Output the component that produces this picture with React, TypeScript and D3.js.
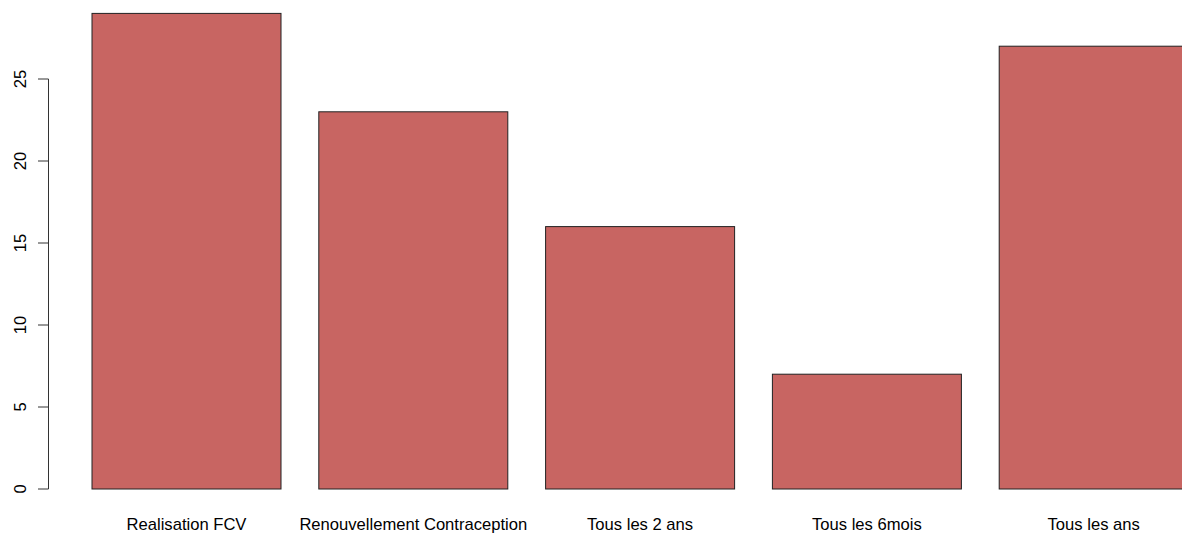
import React from "react";
import * as d3 from "d3";

const categories = ["Realisation FCV", "Renouvellement Contraception", "Tous les 2 ans", "Tous les 6mois", "Tous les ans"];
const values = [29, 23, 16, 7, 27];
const yTicks = [0, 5, 10, 15, 20, 25];

export default function App() {
  const W = 1182, H = 533;
  const y = d3.scaleLinear().domain([0, 25]).range([489, 79]);
  const x = d3.scaleLinear().domain([0, 1]).range([54.2, 54.2 + 189]);
  const barW = 1, space = 0.2;
  const font = "'Liberation Sans', Arial, sans-serif";
  const fs = 16.6;
  return (
    <svg width={W} height={H} style={{ position: "absolute", left: 0, top: 0, background: "#fff" }}>
      {values.map((v, i) => {
        const x0 = x(space + i * (barW + space));
        const x1 = x(space + i * (barW + space) + barW);
        return (
          <g key={i}>
            <rect x={x0} y={y(v)} width={x1 - x0} height={y(0) - y(v)} fill="#C86562" stroke="#222" strokeWidth={1} />
            <text x={(x0 + x1) / 2} y={530} textAnchor="middle" fontFamily={font} fontSize={fs} fill="#000">{categories[i]}</text>
          </g>
        );
      })}
      <line x1={48.5} x2={48.5} y1={y(0)} y2={y(25)} stroke="#333" strokeWidth={1} />
      {yTicks.map((t) => (
        <g key={t}>
          <line x1={38} x2={48.5} y1={y(t)} y2={y(t)} stroke="#333" strokeWidth={1} />
          <text transform={`translate(25.5,${y(t)}) rotate(-90)`} textAnchor="middle" fontFamily={font} fontSize={fs} fill="#000">{t}</text>
        </g>
      ))}
    </svg>
  );
}
